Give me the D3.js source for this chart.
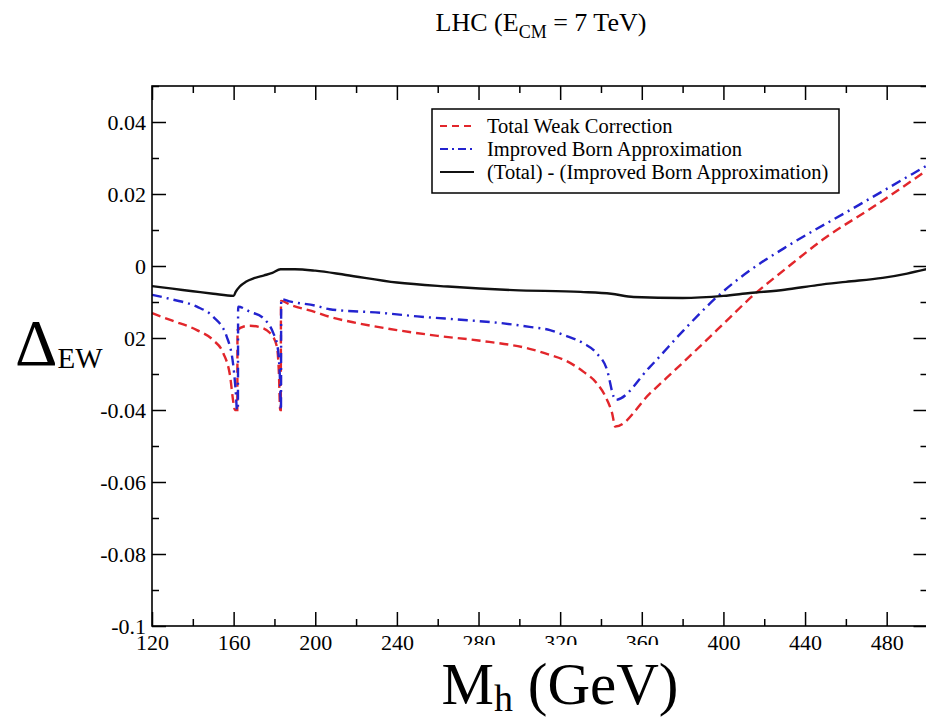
<!DOCTYPE html>
<html>
<head>
<meta charset="utf-8">
<script src="https://cdn.jsdelivr.net/npm/d3@7"></script>
<style>
  body { margin: 0; background: #fff; }
</style>
</head>
<body>
<svg id="chart"></svg>
<script>
// Mh (GeV) and Delta_EW
const totalMh = [120, 130, 142, 150, 155, 158.3, 159.9, 160.6, 161.8, 161.9, 165, 168, 173, 178, 181.2, 182.2, 182.8, 183.1, 183.2, 188, 200, 207, 220, 240, 260, 280, 305, 315, 322, 331.5, 338, 343, 345.5, 347, 364, 380.6, 397, 415.7, 430, 448.4, 475, 500];
const totalVal = [-0.0131, -0.0152, -0.0178, -0.0206, -0.0243, -0.0307, -0.038, -0.040, -0.040, -0.0178, -0.0168, -0.0166, -0.0170, -0.0187, -0.0224, -0.030, -0.040, -0.040, -0.0097, -0.0108, -0.0128, -0.0141, -0.0158, -0.0178, -0.0194, -0.0207, -0.0230, -0.0247, -0.0261, -0.0294, -0.0326, -0.0372, -0.041, -0.0446, -0.0354, -0.0266, -0.0177, -0.0076, -0.0010, 0.0072, 0.0170, 0.0267];

const ibaMh = [120, 130, 142, 150, 156.6, 159.9, 161.2, 161.6, 162.1, 162.2, 168, 174.6, 179.5, 181.2, 182.2, 182.8, 183.1, 183.2, 183.3, 188, 200, 207, 232, 250, 273, 290, 305, 315, 322, 331.5, 338, 343, 346.2, 347, 364, 380.6, 397, 413.3, 429.6, 465, 500];
const ibaVal = [-0.0080, -0.0093, -0.0113, -0.0141, -0.0196, -0.028, -0.0363, -0.040, -0.040, -0.0113, -0.0127, -0.0145, -0.0187, -0.0215, -0.0260, -0.033, -0.040, -0.040, -0.0092, -0.0099, -0.0110, -0.0120, -0.0130, -0.0140, -0.0150, -0.0158, -0.0169, -0.0178, -0.0192, -0.0215, -0.0243, -0.0289, -0.0363, -0.0372, -0.0280, -0.0178, -0.0085, -0.0011, 0.0049, 0.0165, 0.0280];

const diffMh = [120, 130, 140, 150, 160, 161, 163, 166, 170, 175, 179, 183, 190, 200, 215, 240, 265, 297, 330, 345, 356, 380, 400, 413, 430, 446, 460, 478, 490, 500];
const diffVal = [-0.0056, -0.0063, -0.0070, -0.0077, -0.0083, -0.0072, -0.0057, -0.0044, -0.0034, -0.0026, -0.0019, -0.0009, -0.0009, -0.0013, -0.0025, -0.0046, -0.0057, -0.0067, -0.0072, -0.0077, -0.0086, -0.0089, -0.0083, -0.0075, -0.0066, -0.0053, -0.0044, -0.0033, -0.0021, -0.0008];

const xMajor = [120, 160, 200, 240, 280, 320, 360, 400, 440, 480];
const xMinor = [140, 180, 220, 260, 300, 340, 380, 420, 460, 500];
const yMajor = [-0.1, -0.08, -0.06, -0.04, -0.02, 0, 0.02, 0.04];
const yMinor = [-0.09, -0.07, -0.05, -0.03, -0.01, 0.01, 0.03, 0.05];

const seriesNames = ["Total Weak Correction", "Improved Born Approximation", "(Total) - (Improved Born Approximation)"];

const serif = "Liberation Serif, Times New Roman, serif";
const width = 926, height = 718;
const margin = { top: 86, right: -1.5, bottom: 92, left: 152 };

const svg = d3.select("#chart").attr("width", width).attr("height", height)
  .attr("font-family", serif);

const x = d3.scaleLinear().domain([120, 500]).range([margin.left, width - margin.right]);
const y = d3.scaleLinear().domain([-0.1, 0.05]).range([height - margin.bottom, margin.top]);

const series = [
  { name: seriesNames[0], mh: totalMh, val: totalVal, color: "#e2262b", dash: "9,5", w: 2.4 },
  { name: seriesNames[1], mh: ibaMh, val: ibaVal, color: "#2323cf", dash: "10,5,2,5", w: 2.4 },
  { name: seriesNames[2], mh: diffMh, val: diffVal, color: "#111", dash: null, w: 2.4 }
];

const line = d3.line()
  .x(d => x(d[0]))
  .y(d => y(d[1]))
  .curve(d3.curveMonotoneX);

// curves
series.forEach(s => {
  svg.append("path")
    .datum(s.mh.map((m, i) => [m, s.val[i]]))
    .attr("fill", "none")
    .attr("stroke", s.color)
    .attr("stroke-width", s.w)
    .attr("stroke-dasharray", s.dash)
    .attr("d", line);
});

// frame
svg.append("rect")
  .attr("x", x(120)).attr("y", y(0.05))
  .attr("width", x(500) - x(120)).attr("height", y(-0.1) - y(0.05))
  .attr("fill", "none").attr("stroke", "#000").attr("stroke-width", 1.6);

const fmt = d => String(+d.toFixed(2));

function tidy(g) {
  g.attr("font-family", serif).attr("font-size", 22);
  g.select(".domain").remove();
  g.selectAll(".tick line").attr("stroke", "#000").attr("stroke-width", 1.5);
  g.selectAll(".tick text").attr("fill", "#000");
}

// bottom
svg.append("g").attr("transform", `translate(0,${y(-0.1)})`)
  .call(d3.axisBottom(x).tickValues(xMajor).tickSize(-14).tickPadding(8).tickFormat(d3.format("d")))
  .call(tidy);
svg.append("g").attr("transform", `translate(0,${y(-0.1)})`)
  .call(d3.axisBottom(x).tickValues(xMinor).tickSize(-7).tickFormat(""))
  .call(tidy);
// top
svg.append("g").attr("transform", `translate(0,${y(0.05)})`)
  .call(d3.axisTop(x).tickValues(xMajor).tickSize(-14).tickFormat(""))
  .call(tidy);
svg.append("g").attr("transform", `translate(0,${y(0.05)})`)
  .call(d3.axisTop(x).tickValues(xMinor).tickSize(-7).tickFormat(""))
  .call(tidy);
// left
svg.append("g").attr("transform", `translate(${x(120)},0)`)
  .call(d3.axisLeft(y).tickValues(yMajor).tickSize(-14).tickPadding(6).tickFormat(fmt))
  .call(tidy);
svg.append("g").attr("transform", `translate(${x(120)},0)`)
  .call(d3.axisLeft(y).tickValues(yMinor).tickSize(-7).tickFormat(""))
  .call(tidy);
// right
svg.append("g").attr("transform", `translate(${x(500)},0)`)
  .call(d3.axisRight(y).tickValues(yMajor).tickSize(-14).tickFormat(""))
  .call(tidy);
svg.append("g").attr("transform", `translate(${x(500)},0)`)
  .call(d3.axisRight(y).tickValues(yMinor).tickSize(-7).tickFormat(""))
  .call(tidy);

// legend
const lg = svg.append("g");
lg.append("rect").attr("x", 432).attr("y", 109).attr("width", 407).attr("height", 84)
  .attr("fill", "#fff").attr("stroke", "#000").attr("stroke-width", 1.5);
series.forEach((s, i) => {
  const by = 133 + i * 23;
  lg.append("line").attr("x1", 440).attr("x2", 474).attr("y1", by - 7).attr("y2", by - 7)
    .attr("stroke", s.color).attr("stroke-width", 2)
    .attr("stroke-dasharray", s.dash ? (i === 0 ? "7,5" : "8,4,2,4") : null);
  lg.append("text").attr("x", 487).attr("y", by).attr("font-size", 20.5).text(s.name);
});

// title
const title = svg.append("text").attr("x", 541).attr("y", 31).attr("text-anchor", "middle")
  .attr("font-size", 26);
title.append("tspan").text("LHC (E");
title.append("tspan").attr("dy", 7).attr("font-size", 18).text("CM");
title.append("tspan").attr("dy", -7).text(" = 7 TeV)");

// y title with white box
svg.append("rect").attr("x", 0).attr("y", 318).attr("width", 123.5).attr("height", 62).attr("fill", "#fff");
const yt = svg.append("text").attr("x", 15).attr("y", 365).attr("font-size", 66);
yt.append("tspan").text("Δ");
yt.append("tspan").attr("dy", 3).attr("font-size", 29).text("EW");

// x title with white box
svg.append("rect").attr("x", 425).attr("y", 645).attr("width", 270).attr("height", 73).attr("fill", "#fff");
const xt = svg.append("text").attr("x", 560).attr("y", 704).attr("text-anchor", "middle").attr("font-size", 59);
xt.append("tspan").text("M");
xt.append("tspan").attr("dy", 7).attr("font-size", 38).text("h");
xt.append("tspan").attr("dy", -7).text(" (GeV)");
</script>
</body>
</html>
